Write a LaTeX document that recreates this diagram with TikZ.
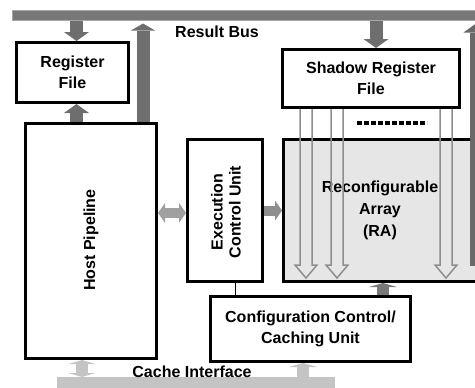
\documentclass[tikz,border=0pt]{standalone}
\usepackage{fontspec}
\setmainfont{Liberation Sans}
\usetikzlibrary{arrows.meta,calc}
\definecolor{busgray}{HTML}{787878}
\definecolor{darkarr}{HTML}{6E6E6E}
\definecolor{midarr}{HTML}{8E8E8E}
\definecolor{lightarr}{HTML}{A0A0A0}
\definecolor{cachegray}{HTML}{C4C4C4}
\definecolor{rafill}{HTML}{E6E6E6}
\newcommand\blockfont{\fontsize{16}{20.5}\selectfont\bfseries}
\tikzset{
  blockbox/.style = {draw=black, line width=3pt, fill=white, inner sep=0pt,
                     align=center, font=\blockfont},
  blocktext/.style = {align=center, font=\blockfont, inner sep=0pt},
  busbar/.style   = {fill=busgray, draw=busgray!65!white, line width=1pt,
                     inner sep=0pt},
  cachebar/.style = {fill=cachegray, inner sep=0pt},
  busarr/.style   = {darkarr, line width=13pt,
                     -{Triangle[length=9pt,width=25pt,line width=0pt]}},
  sidearr/.style  = {line width=10pt,
                     -{Triangle[length=7pt,width=20pt,line width=0pt]}},
  dsidearr/.style = {lightarr, line width=10pt,
                     {Triangle[length=7pt,width=20pt,line width=0pt]}-{Triangle[length=7pt,width=20pt,line width=0pt]}},
  stubarr/.style  = {line width=12pt,
                     -{Triangle[length=4pt,width=28pt,line width=0pt]}},
  hollowarr/.style = {midarr, line width=1.5pt, line join=miter},
  moredots/.style = {black, line width=4.5pt, dash pattern=on 5pt off 2pt}
}

\begin{document}
\begin{tikzpicture}[x=1pt,y=-1pt]
  \useasboundingbox (0,0) rectangle (475,388);

  % buses
  \node[busbar, minimum width=480pt, minimum height=10pt, anchor=west] (rbus) at (12,15) {};
  \node[cachebar, minimum width=278pt, minimum height=18pt, anchor=north west] (cbus) at (57,377) {};
  \node[blocktext] (rbustext) at (217,32) {Result Bus};
  \node[blocktext] (cbustext) at (192,372) {Cache Interface};

  % blocks
  \node[blockbox, minimum width=112pt, minimum height=60pt] (rf) at (72.5,72.5) {Register\\File};
  \node[blockbox, minimum width=131pt, minimum height=235pt] (hp) at (91,241) {};
  \node[blocktext, rotate=90] (hptext) at (91,240) {Host Pipeline};
  \node[blockbox, minimum width=75pt, minimum height=142pt] (ecu) at (225,210.5) {};
  \node[blocktext, rotate=90, font=\fontsize{16}{18}\selectfont\bfseries] (ecutext) at (226,212) {Execution\\Control Unit};
  \node[blockbox, minimum width=177pt, minimum height=58pt] (srf) at (371,78.5) {Shadow Register\\File};
  \node[blockbox, fill=rafill, minimum width=193pt, minimum height=142pt,
        font=\fontsize{16}{22}\selectfont\bfseries] (ra) at (380,210.5) {Reconfigurable\\Array\\(RA)};
  \node[blockbox, minimum width=200pt, minimum height=65pt] (ccu) at (310.5,329) {Configuration Control/\\Caching Unit};

  % result bus traffic
  \draw[busarr] ([xshift=4pt]rf.north |- rbus.south) -- ([xshift=4pt]rf.north);
  \draw[busarr] ([xshift=4pt]rf.south |- hp.north) -- ([xshift=4pt]rf.south);
  \draw[busarr, -{Triangle[length=7pt,width=24pt,line width=0pt]}]
    ([xshift=52pt]hp.north) -- ($([xshift=52pt]hp.north |- rbus.south)+(0,3)$);
  \draw[busarr] ([xshift=5pt]srf.north |- rbus.south) -- ([xshift=5pt]srf.north);
  \coordinate (raout) at (476,266);
  \draw[busarr, darkarr!95!black] (raout) -- ($(raout |- rbus.south)+(0,3)$);

  % control paths
  \draw[dsidearr] ([yshift=-2.5pt]ecu.west -| hp.east) -- ([yshift=-2.5pt]ecu.west);
  \draw[sidearr, midarr] (ecu.east) -- (ecu.east -| ra.west);
  \draw[black, line width=0.8pt] ([xshift=10pt]ecu.south) -- ([xshift=10pt]ecu.south |- ccu.north);
  \draw[stubarr, busgray] ([xshift=72.5pt]ccu.north) -- ([xshift=72.5pt]ccu.north |- ra.south);

  % cache interface
  \draw[stubarr, cachegray, {Triangle[length=4pt,width=27pt,line width=0pt]}-{Triangle[length=4pt,width=27pt,line width=0pt]}]
    ([xshift=-9pt]hp.south |- cbus.north) -- ([xshift=-9pt]hp.south);
  \draw[stubarr, cachegray] ([xshift=-7.5pt]ccu.south |- cbus.north) -- ([xshift=-7.5pt]ccu.south);

  % shadow register file to array
  \foreach \o in {25,56,165}{
    \draw[hollowarr] ($(srf.south west)+(\o-6,0)$) -- ($(srf.south west |- ra.south)+(\o-6,-18)$)
      -- ++(-5,0) -- ++(11,13) -- ++(11,-13) -- ++(-5,0) -- ($(srf.south west)+(\o+6,0)$);
  }
  \draw[moredots] ($(srf.south)+(-14,14)$) -- ++(70,0);
\end{tikzpicture}
\end{document}
